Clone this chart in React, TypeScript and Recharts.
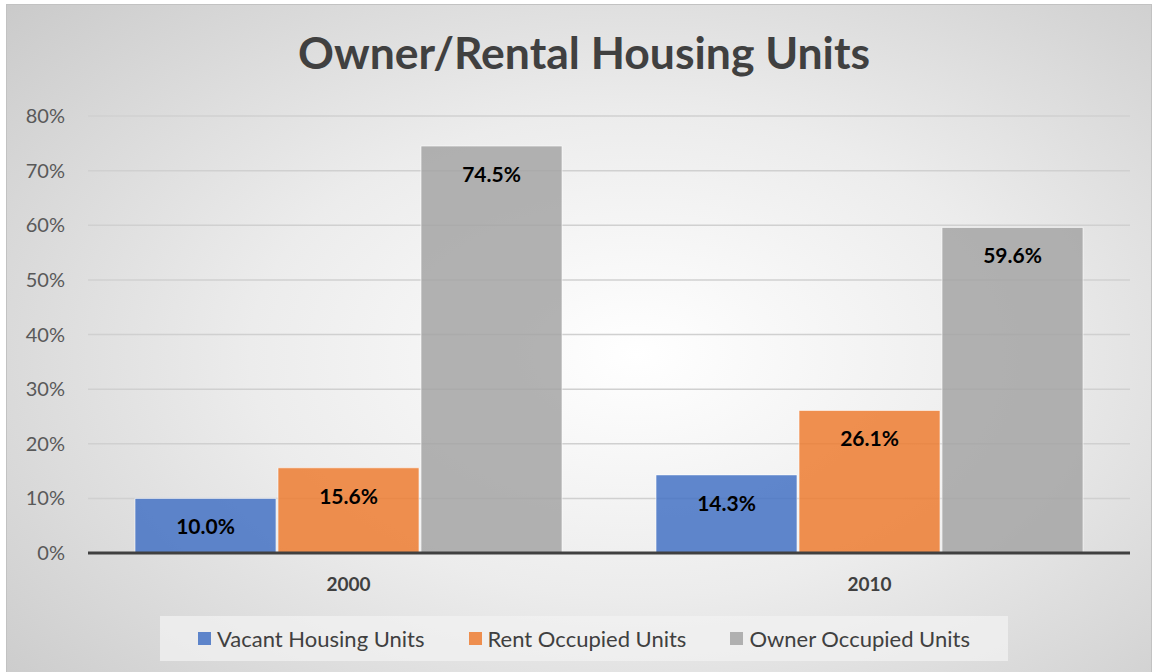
import { BarChart, Bar, XAxis, YAxis, CartesianGrid, LabelList, ReferenceLine } from "recharts"

const years = ["2000", "2010"]
const vacant = [10.0, 14.3]
const rentOccupied = [15.6, 26.1]
const ownerOccupied = [74.5, 59.6]
const yTicks = [0, 10, 20, 30, 40, 50, 60, 70, 80]

const series = [
  { key: "vacant", name: "Vacant Housing Units", color: "#4472C4" },
  { key: "rent", name: "Rent Occupied Units", color: "#ED7D31" },
  { key: "owner", name: "Owner Occupied Units", color: "#A5A5A5" },
]

const data = years.map((year, i) => ({
  year,
  vacant: vacant[i],
  rent: rentOccupied[i],
  owner: ownerOccupied[i],
}))

const font = "Lato, 'Open Sans', sans-serif"

function LegendBox() {
  return (
    <div
      style={{
        position: "absolute",
        left: 160,
        top: 616,
        width: 848,
        height: 45,
        background: "rgba(242,242,242,0.75)",
        display: "flex",
        alignItems: "center",
        justifyContent: "center",
        gap: 44,
        fontFamily: font,
        fontSize: 22,
        color: "#404040",
      }}
    >
      {series.map((s) => (
        <div key={s.key} style={{ display: "flex", alignItems: "center" }}>
          <span style={{ width: 13, height: 13, background: s.color, opacity: 0.85, marginRight: 6 }} />
          <span>{s.name}</span>
        </div>
      ))}
    </div>
  )
}

export default function App() {
  return (
    <div
      style={{
        position: "absolute",
        left: 0,
        top: 0,
        width: 1154,
        height: 672,
        overflow: "hidden",
        background: "#ffffff",
      }}
    >
      {/* chart frame */}
      <div
        style={{
          position: "absolute",
          left: 6,
          top: 4,
          width: 1144,
          height: 672,
          border: "1px solid #c2c2c2",
          background: "radial-gradient(ellipse 75% 80% at 55% 52%, #ffffff 0%, #ececec 45%, #c9c9c9 100%)",
        }}
      />
      <div
        style={{
          position: "absolute",
          left: 0,
          top: 25,
          width: 1168,
          textAlign: "center",
          fontFamily: font,
          fontWeight: 700,
          fontSize: 44.5,
          color: "#404040",
        }}
      >
        Owner/Rental Housing Units
      </div>
      <div style={{ position: "absolute", left: 0, top: 0 }}>
        <BarChart
          width={1154}
          height={672}
          data={data}
          margin={{ top: 116, right: 24, bottom: 89, left: 0 }}
          barGap={2}
          barSize={141}
        >
          <CartesianGrid vertical={false} stroke="#d0d0d0" strokeWidth={1.5} />
          <XAxis
            dataKey="year"
            height={30}
            axisLine={false}
            tickLine={false}
            tickMargin={19}
            tick={{ fontFamily: font, fontSize: 19, fontWeight: 700, fill: "#404040" }}
          />
          <YAxis
            width={88}
            domain={[0, 80]}
            ticks={yTicks}
            interval={0}
            axisLine={false}
            tickLine={false}
            tickMargin={17}
            tickFormatter={(v: number) => `${v}%`}
            tick={{ fontFamily: font, fontSize: 20, fill: "#595959" }}
          />
          {series.map((s) => (
            <Bar
              key={s.key}
              dataKey={s.key}
              name={s.name}
              fill={s.color}
              fillOpacity={0.85}
              stroke="#ffffff"
              strokeOpacity={0.6}
              strokeWidth={1}
              isAnimationActive={false}
            >
              <LabelList
                dataKey={s.key}
                position="insideTop"
                offset={21}
                formatter={(v: number) => `${v.toFixed(1)}%`}
                style={{ fontFamily: font, fontSize: 21, fontWeight: 700, fill: "#000000" }}
              />
            </Bar>
          ))}
          <ReferenceLine y={0} stroke="#404040" strokeWidth={3} />
        </BarChart>
      </div>
      <LegendBox />
    </div>
  )
}
